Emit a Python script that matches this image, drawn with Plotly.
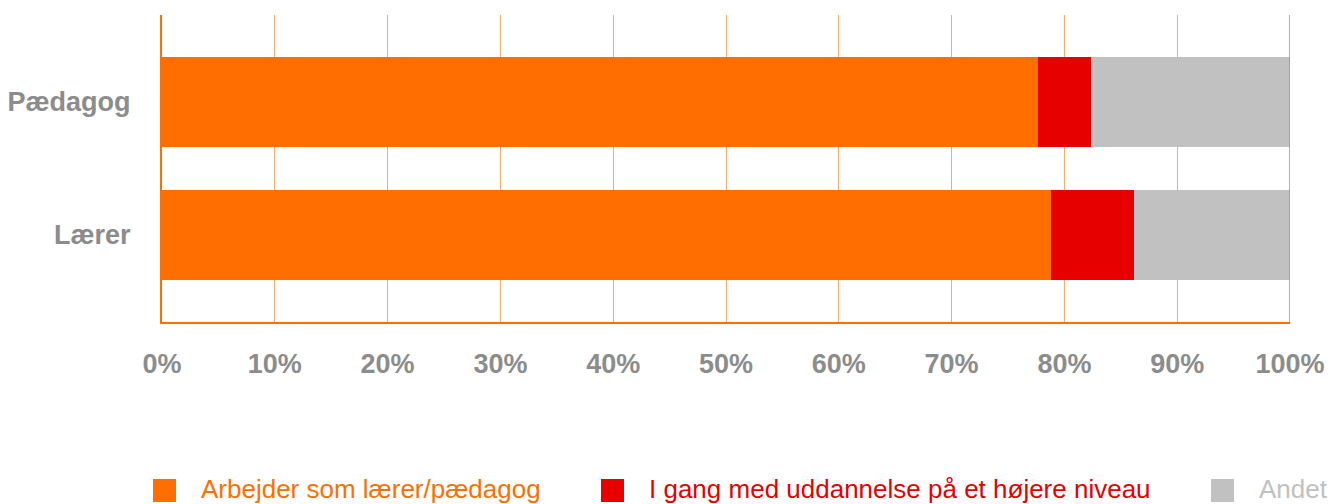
import plotly.graph_objects as go

categories = ["Lærer", "Pædagog"]
series_names = ["Arbejder som lærer/pædagog", "I gang med uddannelse på et højere niveau", "Andet"]
arbejder = [78.8, 77.7]
i_gang = [7.4, 4.7]
andet = [13.8, 17.6]
tick_vals = [0, 10, 20, 30, 40, 50, 60, 70, 80, 90, 100]
tick_text = ["0%", "10%", "20%", "30%", "40%", "50%", "60%", "70%", "80%", "90%", "100%"]

colors = ["#FF6E00", "#E60000", "#C1C1C1"]
OFF = 8  # default page body margin
W, H = 1336 - OFF, 504 - OFF
ML, MR, MT = 162 - OFF, 46, 15 - OFF
MB = H - (322 - OFF)
FONT = "Liberation Sans, Arial, Helvetica, sans-serif"

fig = go.Figure()
for name, vals, col in zip(series_names, [arbejder, i_gang, andet], colors):
    fig.add_trace(go.Bar(
        y=categories, x=vals, name=name, orientation="h",
        marker=dict(color=col, line=dict(width=0)),
        showlegend=False, hoverinfo="skip",
    ))

fig.update_layout(
    width=W, height=H,
    margin=dict(l=ML, r=MR, t=MT, b=MB, autoexpand=False),
    barmode="stack", bargap=0.32,
    plot_bgcolor="white", paper_bgcolor="white",
    font=dict(family=FONT),
)
fig.update_xaxes(
    range=[0, 100], tickvals=tick_vals, ticktext=tick_text,
    showgrid=True, gridcolor="#FFA868", gridwidth=1,
    showline=True, linecolor="#FF6E00", linewidth=2, mirror=False,
    zeroline=False, ticks="",
    tickfont=dict(family=FONT, size=27, color="#8C8C8C", weight="bold"),
    ticklabelstandoff=17, fixedrange=True,
)
fig.update_yaxes(
    type="category", categoryorder="array", categoryarray=categories,
    range=[-0.654, 1.654],
    showgrid=False, showline=True, linecolor="#FF6E00", linewidth=2, mirror=False,
    zeroline=False, ticks="",
    tickfont=dict(family=FONT, size=27, color="#8C8C8C", weight="bold"),
    ticklabelstandoff=24, fixedrange=True,
)
# right border at 100%
fig.add_shape(type="line", xref="x", yref="paper", x0=100, x1=100, y0=0, y1=1,
              line=dict(color="#FF7A14", width=1.5), layer="above")

# custom legend (page pixel positions converted to paper coordinates)
pw, ph = W - ML - MR, H - MT - MB
def px(x):
    return (x - OFF - ML) / pw
def py(y):
    return (H - MB - (y - OFF)) / ph

sq_x = [153, 601, 1211]
txt_x = [199, 647, 1257]
sq_top, sq_bot = 479, 502
for name, col, sx, tx in zip(series_names, colors, sq_x, txt_x):
    fig.add_shape(type="rect", xref="paper", yref="paper",
                  x0=px(sx), x1=px(sx + 23), y0=py(sq_bot), y1=py(sq_top),
                  fillcolor=col, line=dict(width=0))
    fig.add_annotation(xref="paper", yref="paper", x=px(tx), y=py(489),
                       xanchor="left", yanchor="middle", showarrow=False,
                       text=name, font=dict(family=FONT, size=26, color=col))

fig.write_html("out.html")
